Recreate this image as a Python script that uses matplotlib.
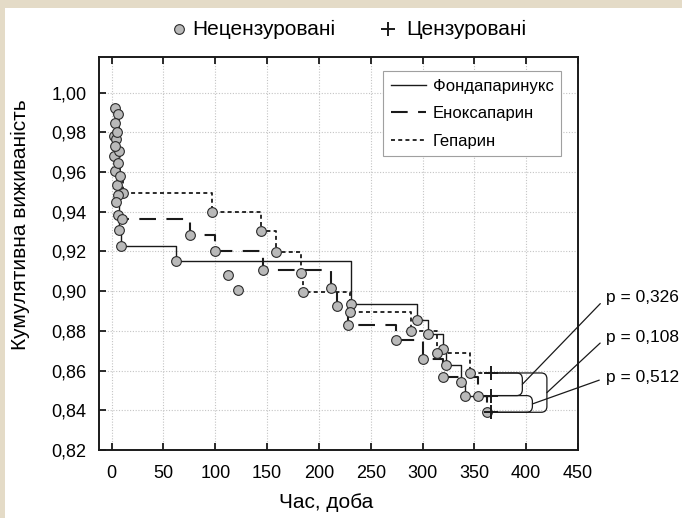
import numpy as np
import matplotlib.pyplot as plt
from matplotlib.lines import Line2D
from matplotlib.patches import Rectangle, PathPatch
from matplotlib.path import Path
from matplotlib.ticker import FuncFormatter, MultipleLocator

plt.rcParams['font.family'] = ['Liberation Sans', 'DejaVu Sans']

# Kaplan-Meier steps (time in days, survival)
fonda_t = [1.9, 3.2, 5.1, 7.0, 9.0, 62, 231, 295, 305, 320, 322.4, 337.5, 340.7]
fonda_s = [0.9683, 0.9607, 0.9536, 0.931, 0.923, 0.9154, 0.8933, 0.8856, 0.8786,
           0.8709, 0.8630, 0.8545, 0.8474]
enox_t = [1.9, 4.5, 5.8, 6.4, 9.7, 76, 99.4, 146, 211.5, 217.5, 227.6, 274, 300,
          320, 353.5, 362.6]
enox_s = [0.9784, 0.9769, 0.9645, 0.9385, 0.9364, 0.9281, 0.9201, 0.9108, 0.9017,
          0.8927, 0.8831, 0.8756, 0.8659, 0.8566, 0.8474, 0.8390]
hep_t = [3.2, 5.8, 7.0, 8.4, 11.0, 96.4, 144, 158.6, 182.5, 185, 230, 288.6, 314.3, 346.2]
hep_s = [0.9922, 0.9891, 0.9707, 0.9581, 0.9497, 0.9397, 0.9301, 0.9198, 0.9092,
         0.8995, 0.8896, 0.8797, 0.8690, 0.8588]
# last follow-up (censored) time
cens_t = 366
# uncensored events not sitting on a drawn step
extra_t = [3.2, 5.1, 3.2, 5.8, 3.9, 112.5, 121.5]
extra_s = [0.9846, 0.980, 0.9729, 0.9484, 0.9449, 0.9083, 0.9005]

# log-rank comparisons
p_labels = ['p = 0,326', 'p = 0,108', 'p = 0,512']
p_label_y = [0.8967, 0.8766, 0.8564]
bracket_x = [396.3, 420, 406]

names = ['Фондапаринукс', 'Еноксапарин', 'Гепарин']
styles = ['-', (0, (8, 5)), (0, (2.2, 1.8))]
widths = [1.0, 1.5, 1.3]

fig = plt.figure(figsize=(6.82, 5.18), dpi=100)
fig.patch.set_facecolor('#e4dbc7')
fig.add_artist(Rectangle((4.5 / 682, 0), 1, 1 - 8 / 518, transform=fig.transFigure,
                         facecolor='white', edgecolor='none', zorder=-10))

ax = fig.add_axes([0.1452, 0.1313, 0.7023, 0.7587])

curves = [(fonda_t, fonda_s), (enox_t, enox_s), (hep_t, hep_s)]
for (t, s), name, ls, lw in zip(curves, names, styles, widths):
    ax.step(np.append(t, cens_t), np.append(s, s[-1]), where='post',
            color='#1a1a1a', ls=ls, lw=lw, label=name, zorder=2)
    ax.plot(t, s, 'o', ms=7, mfc='#b9b9b9', mec='#2a2a2a', mew=0.8, zorder=3)
    ax.plot(cens_t, s[-1], '+', ms=10, mew=1.4, color='#1a1a1a', zorder=4)
ax.plot(extra_t, extra_s, 'o', ms=7, mfc='#b9b9b9', mec='#2a2a2a', mew=0.8, zorder=3)

# brackets joining the curve ends
ends = {'h': hep_s[-1], 'f': fonda_s[-1], 'e': enox_s[-1]}
pairs = [('h', 'f'), ('h', 'e'), ('f', 'e')]
rx, ry = 5.5, 0.003
for (a, b), xr, lab, ly in zip(pairs, bracket_x, p_labels, p_label_y):
    ya, yb = ends[a], ends[b]
    verts = [(cens_t, ya), (xr - rx, ya), (xr, ya), (xr, ya - ry), (xr, yb + ry),
             (xr, yb), (xr - rx, yb), (cens_t, yb)]
    codes = [Path.MOVETO, Path.LINETO, Path.CURVE3, Path.CURVE3, Path.LINETO,
             Path.CURVE3, Path.CURVE3, Path.LINETO]
    ax.add_patch(PathPatch(Path(verts, codes), fill=False, lw=0.9, ec='#1a1a1a', zorder=2))
    ax.annotate(lab, xy=(xr, (ya + yb) / 2), xytext=(477, ly), textcoords='data',
                ha='left', va='center', fontsize=12.5, annotation_clip=False,
                arrowprops=dict(arrowstyle='-', lw=0.9, color='#1a1a1a',
                                shrinkA=3, shrinkB=0, relpos=(0, 0.5)))

ax.set_xlim(-12.2, 450)
ax.set_ylim(0.82, 1.018)
ax.xaxis.set_major_locator(MultipleLocator(50))
ax.yaxis.set_major_locator(MultipleLocator(0.02))
ax.yaxis.set_major_formatter(FuncFormatter(lambda v, p: f'{v:.2f}'.replace('.', ',')))
ax.tick_params(direction='in', top=True, right=False, length=5, width=1.3,
               labelsize=13, color='#1a1a1a')
ax.tick_params(axis='x', pad=11)
ax.tick_params(axis='y', pad=9)
for sp in ax.spines.values():
    sp.set_linewidth(1.4)
    sp.set_color('#1a1a1a')
ax.grid(True, color='#c4c4c4', ls=(0, (1, 1.5)), lw=0.8)
ax.set_axisbelow(True)

leg = ax.legend(loc='upper left', bbox_to_anchor=(0.593, 0.964), borderaxespad=0,
                fontsize=12, fancybox=False, edgecolor='#a0a0a0', framealpha=1,
                handlelength=2.1, handletextpad=0.45, borderpad=0.45, labelspacing=0.75,
                handleheight=0.7)
leg.get_frame().set_linewidth(0.8)

# top legend for event markers
fig.add_artist(Line2D([179 / 682], [1 - 29 / 518], marker='o', ms=7, mfc='#b9b9b9',
                      mec='#2a2a2a', mew=0.8, transform=fig.transFigure))
fig.text(192 / 682, 1 - 29 / 518, 'Нецензуровані', va='center', fontsize=15)
fig.add_artist(Line2D([388 / 682], [1 - 29 / 518], marker='+', ms=10, mew=1.4,
                      color='#1a1a1a', transform=fig.transFigure))
fig.text(406 / 682, 1 - 29 / 518, 'Цензуровані', va='center', fontsize=15)

fig.text(20 / 682, 1 - 225 / 518, 'Кумулятивна виживаність', rotation=90,
         ha='center', va='center', fontsize=15)
fig.text(326 / 682, 1 - 503 / 518, 'Час, доба', ha='center', va='center', fontsize=15)

fig.savefig('out.png', dpi=100)
